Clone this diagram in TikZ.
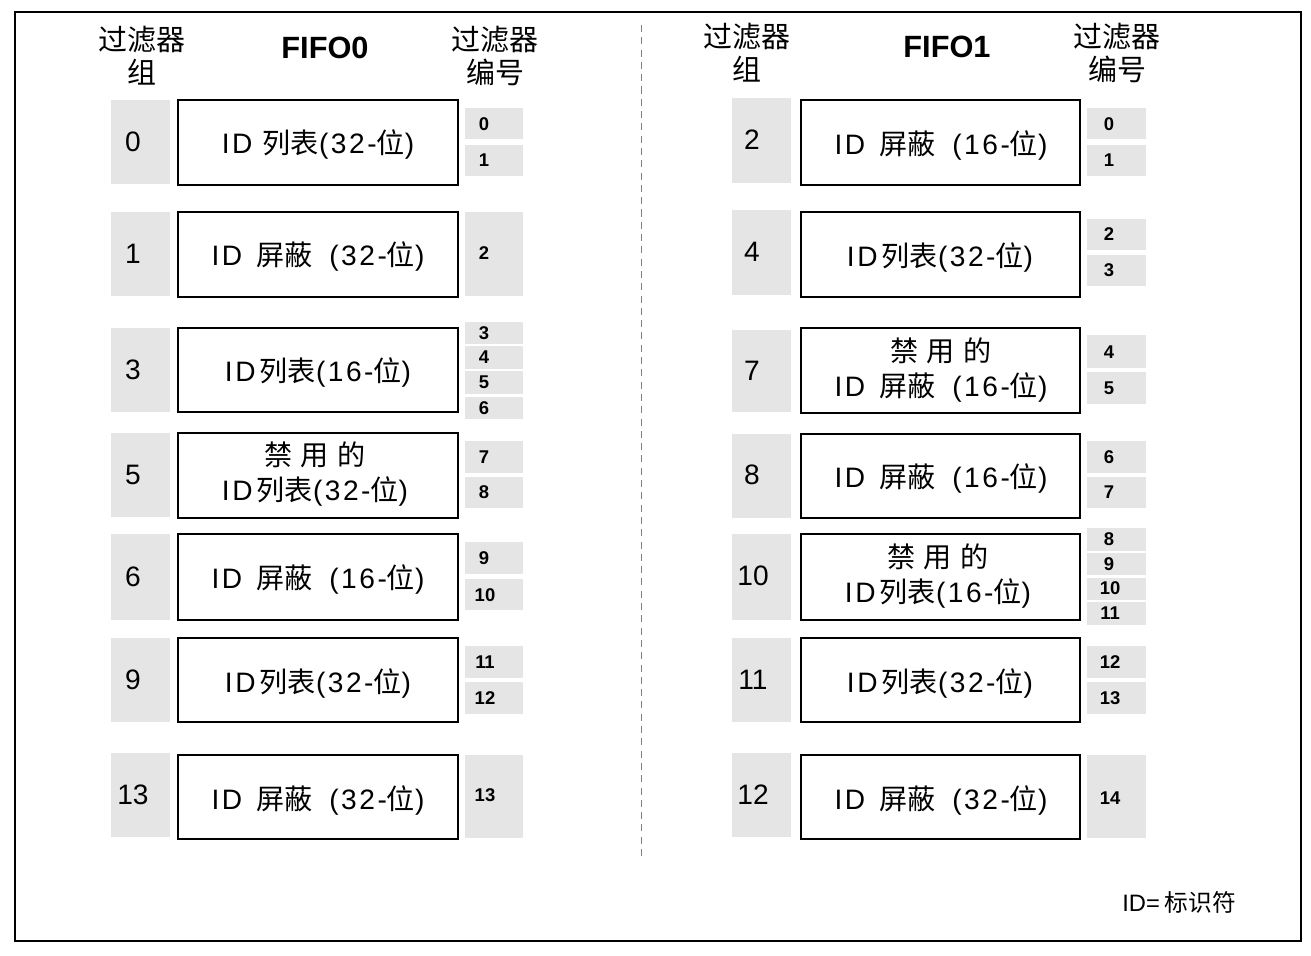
\documentclass[tikz,border=0pt]{standalone}
\usepackage{fontspec}
\setmainfont{Liberation Sans}
\newfontfamily\cjk{Noto Sans CJK SC}
\newcommand{\zhtext}[1]{{\cjk #1}}

\begin{document}
\begin{tikzpicture}[x=0.02cm, y=-0.02cm,
    grpbox/.style={fill=gray!20},
    idbox/.style={draw, line width=1.2pt},
    grptext/.style={font=\fontsize{16}{16}\selectfont},
    boxtext/.style={font=\addfontfeatures{LetterSpace=9}\fontsize{16}{20.4}\selectfont, align=center},
    numtext/.style={font=\bfseries\fontsize{10.5}{10.5}\selectfont},
    headtext/.style={font=\cjk\fontsize{16.5}{18.7}\selectfont, align=center}]
        \useasboundingbox (0,0) rectangle (1311,956);
        % frame
        \draw [line width=1.2pt] (15,12) rectangle (1301,941);
        \draw [gray, dash pattern=on 4pt off 3pt] (641,25) -- (641,860);
        % heads
        \node[headtext] (hgrpL) at (142,56) {过滤器\\组};
        \node[font=\bfseries\fontsize{17.5}{17.5}\selectfont] (hfifoL) at (325,48) {FIFO0};
        \node[headtext] (hnumL) at (495,56) {过滤器\\编号};
        \node[headtext] (hgrpR) at (747,53) {过滤器\\组};
        \node[font=\bfseries\fontsize{17.5}{17.5}\selectfont] (hfifoR) at (947,47) {FIFO1};
        \node[headtext] (hnumR) at (1117,53) {过滤器\\编号};
        % FIFO0 groups
        \fill[grpbox] (111,100) rectangle (170,184); \node[grptext] (gL0) at (133,142) {0};
        \fill[grpbox] (111,212) rectangle (170,296); \node[grptext] (gL1) at (133,254) {1};
        \fill[grpbox] (111,328) rectangle (170,412); \node[grptext] (gL3) at (133,370) {3};
        \fill[grpbox] (111,433) rectangle (170,517); \node[grptext] (gL5) at (133,475) {5};
        \fill[grpbox] (111,534) rectangle (170,620); \node[grptext] (gL6) at (133,577) {6};
        \fill[grpbox] (111,638) rectangle (170,722); \node[grptext] (gL9) at (133,680) {9};
        \fill[grpbox] (111,753) rectangle (170,837); \node[grptext] (gL13) at (133,795) {13};
        % FIFO0 boxes
        \draw[idbox] (178,100) rectangle (458,185); \node[boxtext] (bL0) at (318,145) {ID \zhtext{列表}(32-\zhtext{位})};
        \draw[idbox] (178,212) rectangle (458,297); \node[boxtext] (bL1) at (318,257) {ID\hspace{0.5em}\zhtext{屏蔽}\hspace{0.6em}(32-\zhtext{位})};
        \draw[idbox] (178,328) rectangle (458,412); \node[boxtext] (bL2) at (318,373) {ID\hspace{0.15em}\zhtext{列表}(16-\zhtext{位})};
        \draw[idbox] (178,433) rectangle (458,518); \node[boxtext] (bL3) at (315,474) {\zhtext{禁\hspace{0.3em}用\hspace{0.3em}的}\\ID\hspace{0.15em}\zhtext{列表}(32-\zhtext{位})};
        \draw[idbox] (178,534) rectangle (458,620); \node[boxtext] (bL4) at (318,579) {ID\hspace{0.5em}\zhtext{屏蔽}\hspace{0.6em}(16-\zhtext{位})};
        \draw[idbox] (178,638) rectangle (458,722); \node[boxtext] (bL5) at (318,683) {ID\hspace{0.15em}\zhtext{列表}(32-\zhtext{位})};
        \draw[idbox] (178,755) rectangle (458,839); \node[boxtext] (bL6) at (318,800) {ID\hspace{0.5em}\zhtext{屏蔽}\hspace{0.6em}(32-\zhtext{位})};
        % FIFO0 filter numbers
        \fill[grpbox] (465,108) rectangle (523,139); \node[numtext] (nL0) at (484,124) {0};
        \fill[grpbox] (465,145) rectangle (523,176); \node[numtext] (nL1) at (484,160) {1};
        \fill[grpbox] (465,212) rectangle (523,296); \node[numtext] (nL2) at (484,253) {2};
        \fill[grpbox] (465,322) rectangle (523,344); \node[numtext] (nL3) at (484,333) {3};
        \fill[grpbox] (465,346) rectangle (523,369); \node[numtext] (nL4) at (484,357) {4};
        \fill[grpbox] (465,371) rectangle (523,394); \node[numtext] (nL5) at (484,382) {5};
        \fill[grpbox] (465,397) rectangle (523,419); \node[numtext] (nL6) at (484,408) {6};
        \fill[grpbox] (465,441) rectangle (523,473); \node[numtext] (nL7) at (484,457) {7};
        \fill[grpbox] (465,477) rectangle (523,508); \node[numtext] (nL8) at (484,492) {8};
        \fill[grpbox] (465,542) rectangle (523,574); \node[numtext] (nL9) at (484,558) {9};
        \fill[grpbox] (465,579) rectangle (523,610); \node[numtext] (nL10) at (485,595) {10};
        \fill[grpbox] (465,646) rectangle (523,678); \node[numtext] (nL11) at (485,662) {11};
        \fill[grpbox] (465,682) rectangle (523,714); \node[numtext] (nL12) at (485,698) {12};
        \fill[grpbox] (465,755) rectangle (523,838); \node[numtext] (nL13) at (485,795) {13};
        % FIFO1 groups
        \fill[grpbox] (732,98) rectangle (791,183); \node[grptext] (gR2) at (752,140) {2};
        \fill[grpbox] (732,210) rectangle (791,295); \node[grptext] (gR4) at (752,252) {4};
        \fill[grpbox] (732,330) rectangle (791,412); \node[grptext] (gR7) at (752,371) {7};
        \fill[grpbox] (732,434) rectangle (791,518); \node[grptext] (gR8) at (752,475) {8};
        \fill[grpbox] (732,534) rectangle (791,620); \node[grptext] (gR10) at (753,576) {10};
        \fill[grpbox] (732,638) rectangle (791,722); \node[grptext] (gR11) at (753,680) {11};
        \fill[grpbox] (732,753) rectangle (791,837); \node[grptext] (gR12) at (753,795) {12};
        % FIFO1 boxes
        \draw[idbox] (801,100) rectangle (1080,185); \node[boxtext] (bR0) at (941,146) {ID\hspace{0.5em}\zhtext{屏蔽}\hspace{0.6em}(16-\zhtext{位})};
        \draw[idbox] (801,212) rectangle (1080,297); \node[boxtext] (bR1) at (940,258) {ID\hspace{0.15em}\zhtext{列表}(32-\zhtext{位})};
        \draw[idbox] (801,328) rectangle (1080,413); \node[boxtext] (bR2) at (941,370) {\zhtext{禁\hspace{0.3em}用\hspace{0.3em}的}\\ID\hspace{0.5em}\zhtext{屏蔽}\hspace{0.6em}(16-\zhtext{位})};
        \draw[idbox] (801,434) rectangle (1080,518); \node[boxtext] (bR3) at (941,479) {ID\hspace{0.5em}\zhtext{屏蔽}\hspace{0.6em}(16-\zhtext{位})};
        \draw[idbox] (801,534) rectangle (1080,620); \node[boxtext] (bR4) at (938,576) {\zhtext{禁\hspace{0.3em}用\hspace{0.3em}的}\\ID\hspace{0.15em}\zhtext{列表}(16-\zhtext{位})};
        \draw[idbox] (801,638) rectangle (1080,722); \node[boxtext] (bR5) at (940,683) {ID\hspace{0.15em}\zhtext{列表}(32-\zhtext{位})};
        \draw[idbox] (801,755) rectangle (1080,839); \node[boxtext] (bR6) at (941,800) {ID\hspace{0.5em}\zhtext{屏蔽}\hspace{0.6em}(32-\zhtext{位})};
        % FIFO1 filter numbers
        \fill[grpbox] (1087,108) rectangle (1146,139); \node[numtext] (nR0) at (1109,124) {0};
        \fill[grpbox] (1087,145) rectangle (1146,176); \node[numtext] (nR1) at (1109,160) {1};
        \fill[grpbox] (1087,219) rectangle (1146,250); \node[numtext] (nR2) at (1109,234) {2};
        \fill[grpbox] (1087,255) rectangle (1146,286); \node[numtext] (nR3) at (1109,270) {3};
        \fill[grpbox] (1087,335) rectangle (1146,368); \node[numtext] (nR4) at (1109,352) {4};
        \fill[grpbox] (1087,372) rectangle (1146,404); \node[numtext] (nR5) at (1109,388) {5};
        \fill[grpbox] (1087,441) rectangle (1146,473); \node[numtext] (nR6) at (1109,457) {6};
        \fill[grpbox] (1087,477) rectangle (1146,508); \node[numtext] (nR7) at (1109,492) {7};
        \fill[grpbox] (1087,528) rectangle (1146,551); \node[numtext] (nR8) at (1109,539) {8};
        \fill[grpbox] (1087,553) rectangle (1146,575); \node[numtext] (nR9) at (1109,564) {9};
        \fill[grpbox] (1087,578) rectangle (1146,600); \node[numtext] (nR10) at (1110,588) {10};
        \fill[grpbox] (1087,602) rectangle (1146,625); \node[numtext] (nR11) at (1110,613) {11};
        \fill[grpbox] (1087,646) rectangle (1146,678); \node[numtext] (nR12) at (1110,662) {12};
        \fill[grpbox] (1087,682) rectangle (1146,714); \node[numtext] (nR13) at (1110,698) {13};
        \fill[grpbox] (1087,755) rectangle (1146,838); \node[numtext] (nR14) at (1110,798) {14};
        % legend
        \node[font=\fontsize{13.5}{13.5}\selectfont] (legend) at (1179,902) {ID=\hspace{0.2em}\zhtext{标识符}};
    \end{tikzpicture}
\end{document}
